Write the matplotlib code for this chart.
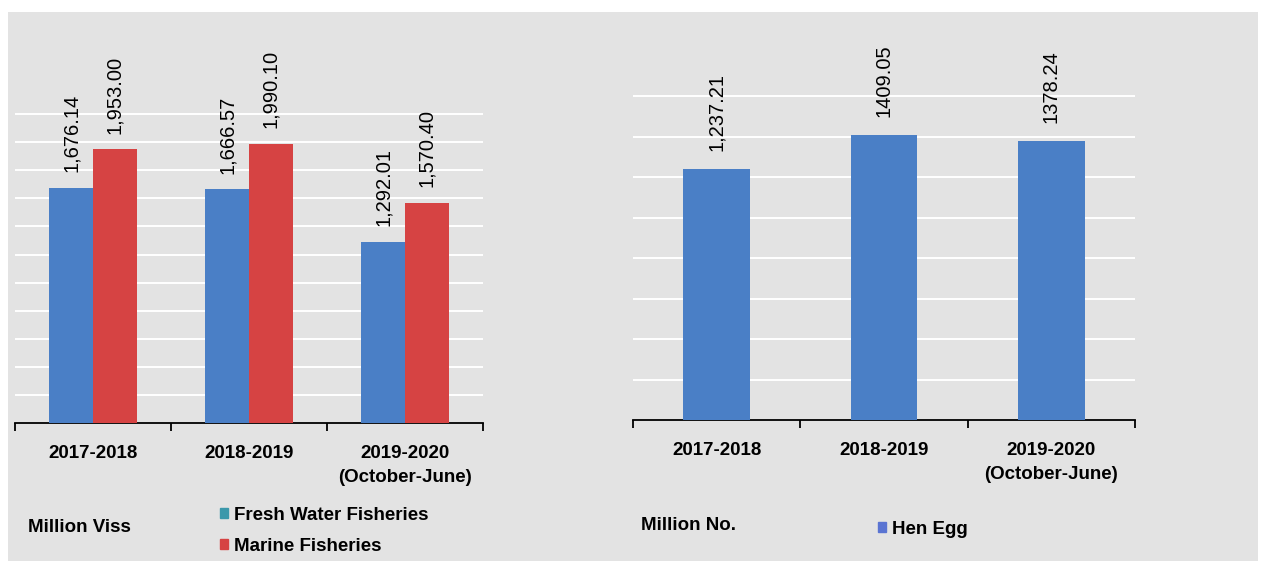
import numpy as np
import matplotlib
matplotlib.use("Agg")
import matplotlib.pyplot as plt
from matplotlib.patches import Rectangle, Patch

# data
years = ["2017-2018", "2018-2019", "2019-2020\n(October-June)"]
fresh_water = [1676.14, 1666.57, 1292.01]
marine = [1953.00, 1990.10, 1570.40]
fresh_labels = ["1,676.14", "1,666.57", "1,292.01"]
marine_labels = ["1,953.00", "1,990.10", "1,570.40"]
hen_egg = [1237.21, 1409.05, 1378.24]
hen_labels = ["1,237.21", "1409.05", "1378.24"]

BLUE = "#4a7fc6"
RED = "#d64343"
BG = "#e3e3e3"

plt.rcParams["font.family"] = ["Liberation Sans", "DejaVu Sans"]

W, H = 1262, 561
fig = plt.figure(figsize=(W / 100, H / 100), dpi=100)
fig.patch.set_facecolor("white")

# grey panel background
fig.patches.append(Rectangle((8 / W, 0), (1258 - 8) / W, (H - 12) / H,
                             transform=fig.transFigure, facecolor=BG,
                             edgecolor="none", zorder=-5))


def px_axes(x0, x1, y_top, y_base):
    return fig.add_axes([x0 / W, (H - y_base) / H, (x1 - x0) / W, (y_base - y_top) / H])


def style_axes(ax, ymax, grid_max):
    ax.set_facecolor("none")
    ax.set_xlim(-0.5, 2.5)
    ax.set_ylim(0, ymax)
    for s in ["top", "right", "left"]:
        ax.spines[s].set_visible(False)
    ax.spines["bottom"].set_color("black")
    ax.spines["bottom"].set_linewidth(1.3)
    ax.set_yticks(np.arange(200, grid_max + 1, 200))
    ax.tick_params(axis="y", left=False, labelleft=False)
    ax.yaxis.grid(True, color="white", linewidth=1.4)
    ax.set_axisbelow(True)
    ax.set_xticks([0, 1, 2])
    ax.set_xticklabels(years, fontsize=13.5, fontweight="bold", linespacing=1.55)
    ax.tick_params(axis="x", which="major", length=0, pad=16)
    ax.set_xticks([-0.5, 0.5, 1.5, 2.5], minor=True)
    ax.tick_params(axis="x", which="minor", length=6, width=1.3, direction="out")


# ---- left chart: fisheries
ax1 = px_axes(15, 483, 44, 423)
style_axes(ax1, 2700, 2200)
x = np.arange(len(years))
bw = 0.28
b1 = ax1.bar(x - bw / 2, fresh_water, bw, color=BLUE, zorder=3)
b2 = ax1.bar(x + bw / 2, marine, bw, color=RED, zorder=3)
for rect, lab in zip(b1, fresh_labels):
    ax1.annotate(lab, (rect.get_x() + rect.get_width() / 2, rect.get_height()),
                 xytext=(0, 11), textcoords="offset points", rotation=90,
                 ha="center", va="bottom", fontsize=14.5)
for rect, lab in zip(b2, marine_labels):
    ax1.annotate(lab, (rect.get_x() + rect.get_width() / 2, rect.get_height()),
                 xytext=(0, 11), textcoords="offset points", rotation=90,
                 ha="center", va="bottom", fontsize=14.5)

fig.text(28 / W, 1 - 528 / H, "Million Viss", fontsize=13.5, fontweight="bold", va="center")
fig.legend(handles=[Patch(color="#3b98ab", label="Fresh Water Fisheries"),
                    Patch(color=RED, label="Marine Fisheries")],
           loc="upper left", bbox_to_anchor=(220 / W, 1 - 507 / H),
           frameon=False, handlelength=0.45, handleheight=0.45, handletextpad=0.3,
           labelspacing=0.75, borderaxespad=0, borderpad=0,
           prop={"size": 13.5, "weight": "bold"})

# ---- right chart: hen egg
ax2 = px_axes(633, 1135, 44, 420)
style_axes(ax2, 1857, 1600)
b3 = ax2.bar(x, hen_egg, 0.4, color=BLUE, zorder=3)
for rect, lab in zip(b3, hen_labels):
    ax2.annotate(lab, (rect.get_x() + rect.get_width() / 2, rect.get_height()),
                 xytext=(0, 13), textcoords="offset points", rotation=90,
                 ha="center", va="bottom", fontsize=14.5)

fig.text(641 / W, 1 - 526 / H, "Million No.", fontsize=13.5, fontweight="bold", va="center")
fig.legend(handles=[Patch(color="#5a74d2", label="Hen Egg")],
           loc="center left", bbox_to_anchor=(878 / W, 1 - 529 / H),
           frameon=False, handlelength=0.45, handleheight=0.45, handletextpad=0.3,
           borderaxespad=0, borderpad=0,
           prop={"size": 13.5, "weight": "bold"})

fig.savefig("out.png", dpi=100, facecolor=fig.get_facecolor())
